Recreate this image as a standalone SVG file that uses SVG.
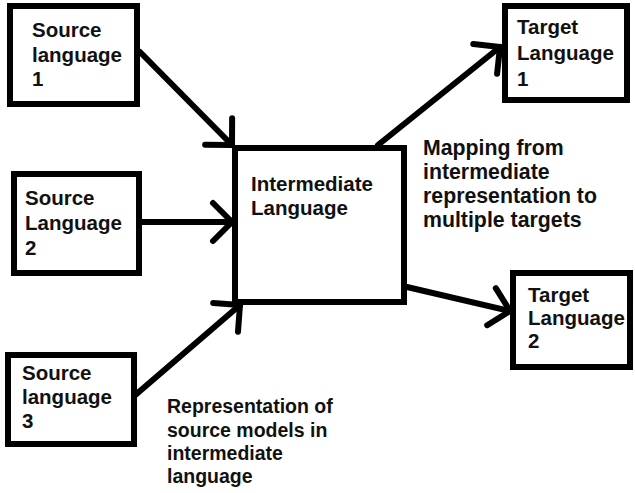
<svg xmlns="http://www.w3.org/2000/svg" width="635" height="493" viewBox="0 0 635 493">
<style>
.box{fill:#fff;stroke:#000;stroke-width:6}
.t{font-family:"Liberation Sans",Arial,sans-serif;font-weight:bold;font-size:20.5px;fill:#111}
.lm{font-size:21.3px}
.lr{font-size:19.5px}
.c{stroke:#000;stroke-width:6;stroke-linecap:round;fill:none}
</style>
<defs>
<marker id="ah" markerUnits="userSpaceOnUse" viewBox="-30 -25 40 50" markerWidth="40" markerHeight="50" refX="0" refY="0" orient="auto" overflow="visible">
<path d="M-19,-19 L0,0 L-19,19" fill="none" stroke="#000" stroke-width="6" stroke-linecap="round" stroke-linejoin="round"/>
</marker>
</defs>
<rect width="635" height="493" fill="#fff"/>
<g id="connectors">
<line class="c" x1="140" y1="52" x2="232" y2="145" marker-end="url(#ah)"/>
<line class="c" x1="142" y1="222" x2="232" y2="222" marker-end="url(#ah)"/>
<line class="c" x1="133" y1="397" x2="240" y2="305" marker-end="url(#ah)"/>
<line class="c" x1="378" y1="145" x2="500" y2="47" marker-end="url(#ah)"/>
<line class="c" x1="407" y1="287" x2="510" y2="311" marker-end="url(#ah)"/>
</g>
<g id="src1">
<rect class="box" x="10" y="6" width="127" height="98"/>
<text class="t" x="32" y="37">Source</text>
<text class="t" x="32" y="61.5">language</text>
<text class="t" x="32" y="86">1</text>
</g>
<g id="src2">
<rect class="box" x="14" y="174" width="125" height="99"/>
<text class="t" x="25" y="205">Source</text>
<text class="t" x="25" y="230">Language</text>
<text class="t" x="25" y="255">2</text>
</g>
<g id="src3">
<rect class="box" x="8" y="355" width="126" height="89"/>
<text class="t" x="22" y="380">Source</text>
<text class="t" x="22" y="404">language</text>
<text class="t" x="22" y="428">3</text>
</g>
<g id="inter">
<rect class="box" x="235" y="148" width="169" height="154"/>
<text class="t" x="251" y="191">Intermediate</text>
<text class="t" x="251" y="215">Language</text>
</g>
<g id="tgt1">
<rect class="box" x="505" y="6" width="122" height="94"/>
<text class="t" x="517" y="34">Target</text>
<text class="t" x="517" y="60">Language</text>
<text class="t" x="517" y="86">1</text>
</g>
<g id="tgt2">
<rect class="box" x="513" y="273" width="117" height="94"/>
<text class="t" x="528" y="302">Target</text>
<text class="t" x="528" y="325">Language</text>
<text class="t" x="528" y="348">2</text>
</g>
<g id="label-mapping">
<text class="t lm" x="423" y="155">Mapping from</text>
<text class="t lm" x="423" y="179">intermediate</text>
<text class="t lm" x="423" y="203">representation to</text>
<text class="t lm" x="423" y="227">multiple targets</text>
</g>
<g id="label-representation">
<text class="t lr" x="167" y="413">Representation of</text>
<text class="t lr" x="167" y="437">source models in</text>
<text class="t lr" x="167" y="460">intermediate</text>
<text class="t lr" x="167" y="483">language</text>
</g>
</svg>
